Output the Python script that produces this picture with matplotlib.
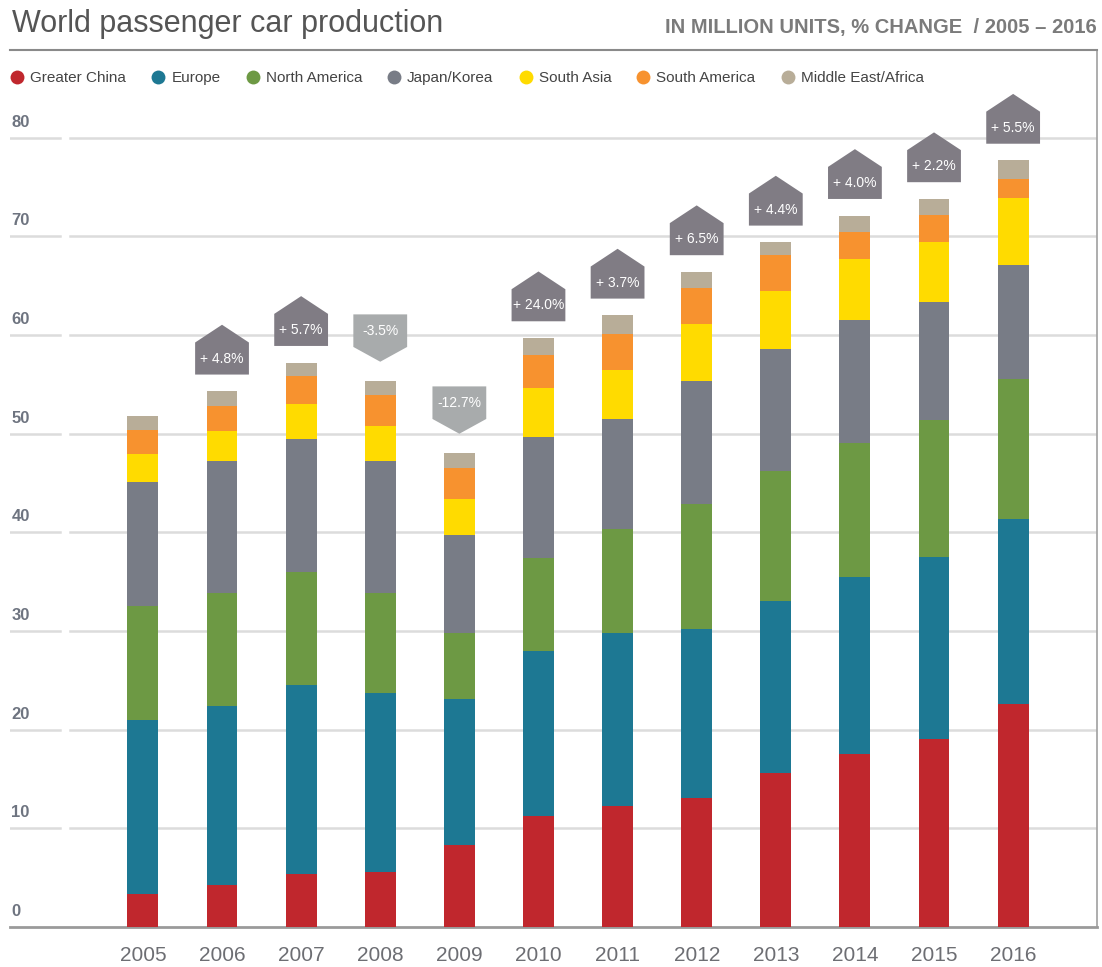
import matplotlib
matplotlib.use("Agg")
import matplotlib.pyplot as plt
from matplotlib.patches import Polygon
from matplotlib.lines import Line2D
import numpy as np

plt.rcParams['font.family'] = ['Liberation Sans Narrow', 'Liberation Sans', 'DejaVu Sans']

years = ['2005', '2006', '2007', '2008', '2009', '2010', '2011', '2012', '2013', '2014', '2015', '2016']
regions = ['Greater China', 'Europe', 'North America', 'Japan/Korea', 'South Asia', 'South America', 'Middle East/Africa']
colors = ['#c0272d', '#1d7893', '#6d9944', '#787c86', '#ffdb00', '#f7922f', '#b8ad98']

greater_china = [3.3, 4.3, 5.4, 5.6, 8.3, 11.3, 12.3, 13.1, 15.6, 17.5, 19.1, 22.6]
europe = [17.7, 18.1, 19.1, 18.1, 14.8, 16.7, 17.5, 17.1, 17.4, 18.0, 18.4, 18.8]
north_america = [11.5, 11.5, 11.5, 10.2, 6.7, 9.4, 10.5, 12.7, 13.2, 13.6, 13.9, 14.1]
japan_korea = [12.6, 13.3, 13.5, 13.3, 9.9, 12.3, 11.2, 12.4, 12.4, 12.4, 12.0, 11.6]
south_asia = [2.8, 3.1, 3.5, 3.6, 3.7, 4.9, 5.0, 5.8, 5.9, 6.2, 6.0, 6.8]
south_america = [2.5, 2.5, 2.9, 3.1, 3.1, 3.4, 3.6, 3.7, 3.6, 2.8, 2.8, 1.9]
middle_east_africa = [1.4, 1.5, 1.3, 1.4, 1.5, 1.7, 1.9, 1.6, 1.3, 1.6, 1.6, 1.9]

# % change vs previous year (none for 2005)
pct_change = [None, 4.8, 5.7, -3.5, -12.7, 24.0, 3.7, 6.5, 4.4, 4.0, 2.2, 5.5]

series = [greater_china, europe, north_america, japan_korea, south_asia, south_america, middle_east_africa]

W, H = 1102, 967
fig = plt.figure(figsize=(W / 100, H / 100), dpi=100)
ax = fig.add_axes([10 / W, (H - 927) / H, (1097 - 10) / W, (927 - 50) / H])

x = np.arange(len(years))
bottom = np.zeros(len(years))
for vals, c, name in zip(series, colors, regions):
    ax.bar(x, vals, width=0.39, bottom=bottom, color=c, label=name, zorder=3)
    bottom += np.array(vals)
totals = bottom

ax.set_xlim(-1.68, 12.06)
ax.set_ylim(0, 88.9)

# gridlines with a little gap after the label area
for v in range(10, 90, 10):
    ax.axhline(v, xmin=0, xmax=0.046, color='#dcdcdc', lw=1.8, zorder=1)
    ax.axhline(v, xmin=0.055, xmax=1, color='#dcdcdc', lw=1.8, zorder=1)
for v in range(0, 90, 10):
    ax.annotate(str(v), xy=(0, v), xycoords=('axes fraction', 'data'), xytext=(1, 8),
                textcoords='offset points', va='baseline', ha='left', fontsize=12,
                fontweight='bold', color='#6e7480')

ax.set_yticks([])
ax.set_xticks(x)
ax.set_xticklabels(years, fontsize=15, color='#6d6e73')
ax.tick_params(axis='x', length=0, pad=14)

ax.spines['left'].set_visible(False)
ax.spines['bottom'].set_color('#9a9a9a')
ax.spines['bottom'].set_linewidth(2)
ax.spines['top'].set_color('#8a8a8a')
ax.spines['top'].set_linewidth(1.5)
ax.spines['right'].set_color('#a0a0a0')
ax.spines['right'].set_linewidth(1.2)

# change badges
hw = 0.34
for xi, tot, p in zip(x, totals, pct_change):
    if p is None:
        continue
    if p >= 0:
        b = tot + 1.7
        t = b + 3.25
        apex = t + 1.8
        pts = [(xi - hw, b), (xi + hw, b), (xi + hw, t), (xi, apex), (xi - hw, t)]
        fc = '#807c84'
        label = f'+ {p:.1f}%'
    else:
        tip = tot + 2.0
        b = tip + 1.5
        t = b + 3.3
        pts = [(xi - hw, t), (xi + hw, t), (xi + hw, b), (xi, tip), (xi - hw, b)]
        fc = '#a8abac'
        label = f'{p:.1f}%'
    ax.add_patch(Polygon(pts, closed=True, facecolor=fc, edgecolor='none', zorder=4))
    ax.text(xi, (b + t) / 2, label, ha='center', va='center', color='white',
            fontsize=10, zorder=5)

# legend
handles = [Line2D([0], [0], marker='o', linestyle='none', markersize=10,
                  markerfacecolor=c, markeredgecolor='none') for c in colors]
fig.legend(handles, regions, loc='center left', bbox_to_anchor=(-4 / W, 1 - 78 / H),
           ncol=7, frameon=False, fontsize=11, handletextpad=0.35, columnspacing=1.6,
           handlelength=1.0, labelcolor='#444444')

fig.text(12 / W, 1 - 24 / H, 'World passenger car production', fontsize=22,
         color='#555555', va='center', ha='left')
fig.text(1097 / W, 1 - 28 / H, 'IN MILLION UNITS, % CHANGE  / 2005 – 2016', fontsize=14.5,
         fontweight='bold', color='#7b7b7b', va='center', ha='right')

fig.savefig('out.png', dpi=100)
